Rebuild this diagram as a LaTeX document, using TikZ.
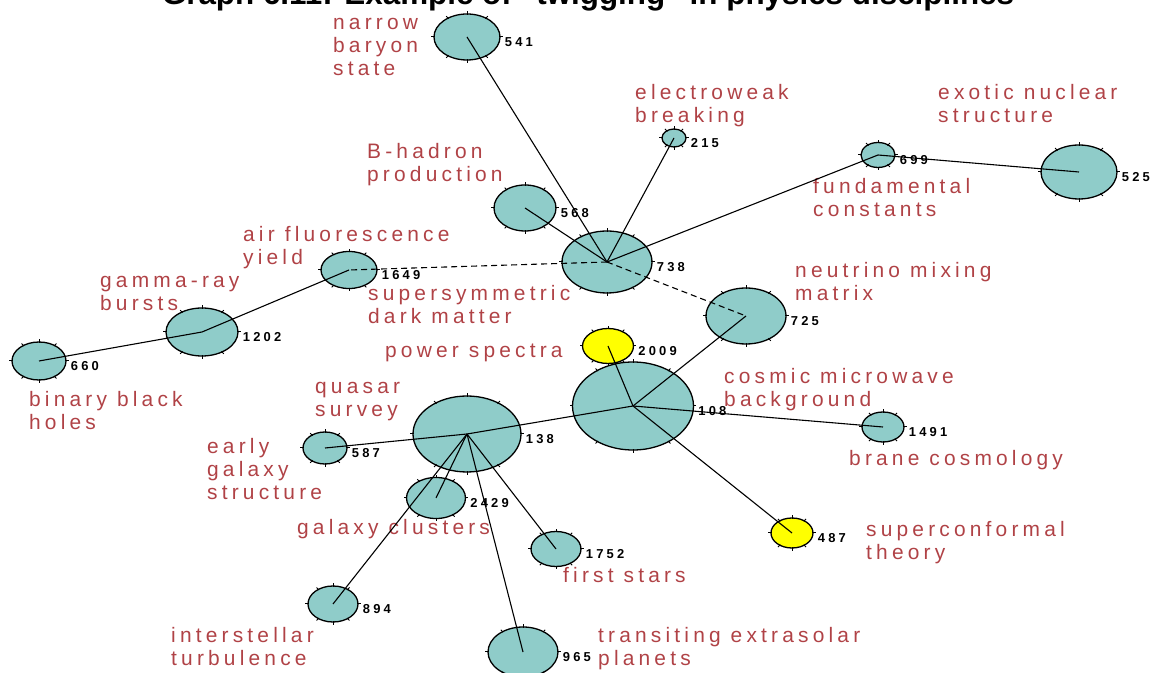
\documentclass[tikz,border=0pt]{standalone}
\usepackage{fontspec}
\setmainfont{Liberation Sans}
\newfontfamily\twiglabelfont[LetterSpace=20]{Liberation Sans}
\newfontfamily\twignumfont[LetterSpace=25]{Liberation Sans}
\usetikzlibrary{shapes,positioning}

\definecolor{twigfill}{RGB}{143,204,201}
\definecolor{twigyellow}{RGB}{255,255,0}
\definecolor{labelcol}{RGB}{176,66,70}

\tikzset{
  topic/.style={ellipse,draw=black,fill=twigfill,line width=1.3bp,inner sep=0pt},
  hot/.style={topic,fill=twigyellow},
  lbl/.style={anchor=base west,align=left,inner sep=0pt,text=labelcol,
    font=\twiglabelfont\fontsize{21}{23.5}\selectfont},
  num/.style={inner sep=0pt,font=\twignumfont\bfseries\fontsize{13}{13}\selectfont},
  link/.style={line width=1.1bp},
  weak/.style={link,dash pattern=on 6bp off 4bp},
}

% small marks round the rim of a topic
\newcommand\twigticks[1]{%
  \foreach \a in {0,45,...,315}{\draw[line width=1bp] ([shift={(\a:-1.5bp)}]#1.\a) -- ([shift={(\a:2bp)}]#1.\a);}}

\begin{document}
\begin{tikzpicture}[line join=bevel]
\useasboundingbox (0bp,0bp) rectangle (1157bp,673bp);

% Title
\node[anchor=base,inner sep=0pt,font=\bfseries\fontsize{31.5}{31.5}\selectfont] (title) at (588bp,668bp)
  {Graph 6.11: Example of "twigging" in physics disciplines};

% Node: n541
\node[topic,minimum width=66bp,minimum height=46bp] (n541) at (467bp,636bp) {};
% Node: n215
\node[topic,minimum width=24bp,minimum height=18bp] (n215) at (674bp,535bp) {};
% Node: n699
\node[topic,minimum width=34bp,minimum height=25bp] (n699) at (878bp,518bp) {};
% Node: n525
\node[topic,minimum width=76bp,minimum height=54bp] (n525) at (1079bp,501bp) {};
% Node: n568
\node[topic,minimum width=62bp,minimum height=46bp] (n568) at (525bp,465bp) {};
% Node: n738
\node[topic,minimum width=90bp,minimum height=62bp] (n738) at (607bp,411bp) {};
% Node: n1649
\node[topic,minimum width=56bp,minimum height=37bp] (n1649) at (349bp,403bp) {};
% Node: n1202
\node[topic,minimum width=72bp,minimum height=48bp] (n1202) at (202bp,341bp) {};
% Node: n660
\node[topic,minimum width=54bp,minimum height=38bp] (n660) at (39bp,312bp) {};
% Node: n725
\node[topic,minimum width=80bp,minimum height=56bp] (n725) at (746bp,357bp) {};
% Node: n2009
\node[hot,minimum width=51bp,minimum height=35bp] (n2009) at (608bp,327bp) {};
% Node: n108
\node[topic,minimum width=121bp,minimum height=88bp] (n108) at (633bp,267bp) {};
% Node: n1491
\node[topic,minimum width=42bp,minimum height=30bp] (n1491) at (883bp,246bp) {};
% Node: n138
\node[topic,minimum width=108bp,minimum height=76bp] (n138) at (467bp,239bp) {};
% Node: n587
\node[topic,minimum width=44bp,minimum height=32bp] (n587) at (325bp,225bp) {};
% Node: n2429
\node[topic,minimum width=59bp,minimum height=41bp] (n2429) at (436bp,175bp) {};
% Node: n1752
\node[topic,minimum width=50bp,minimum height=35bp] (n1752) at (556bp,124bp) {};
% Node: n487
\node[hot,minimum width=42bp,minimum height=30bp] (n487) at (792bp,140bp) {};
% Node: n894
\node[topic,minimum width=50bp,minimum height=36bp] (n894) at (333bp,69bp) {};
% Node: n965
\node[topic,minimum width=70bp,minimum height=50bp] (n965) at (523bp,21bp) {};

\foreach \n in {n541,n215,n699,n525,n568,n738,n1649,n1202,n660,n725,n2009,n108,n1491,n138,n587,n2429,n1752,n487,n894,n965}
  {\twigticks{\n}}

% Labels (placed at the baseline of their last line)
\node[lbl] (l541) at (333bp,597bp) {narrow\\baryon\\state};
\node[lbl] (l215) at (635bp,550.5bp) {electroweak\\breaking};
\node[lbl] (l525) at (938bp,550.5bp) {exotic nuclear\\structure};
\node[lbl] (l568) at (367bp,491.5bp) {B-hadron\\production};
\node[lbl] (l699) at (813bp,456.5bp) {fundamental\\constants};
\node[lbl] (l1649) at (243bp,408.5bp) {air fluorescence\\yield};
\node[lbl] (l1202) at (100bp,362.5bp) {gamma-ray\\bursts};
\node[lbl] (l725) at (795bp,372.5bp) {neutrino mixing\\matrix};
\node[lbl] (l738) at (368bp,349.5bp) {supersymmetric\\dark matter};
\node[lbl] (l2009) at (385bp,315bp) {power spectra};
\node[lbl] (l108) at (724bp,266.5bp) {cosmic microwave\\background};
\node[lbl] (l138) at (315bp,256.5bp) {quasar\\survey};
\node[lbl] (l660) at (29bp,243.5bp) {binary black\\holes};
\node[lbl] (l587) at (207bp,173bp) {early\\galaxy\\structure};
\node[lbl] (l1491) at (849bp,207bp) {brane cosmology};
\node[lbl] (l2429) at (297bp,138bp) {galaxy clusters};
\node[lbl] (l487) at (866bp,113.5bp) {superconformal\\theory};
\node[lbl] (l1752) at (563bp,90bp) {first stars};
\node[lbl] (l894) at (171bp,7.5bp) {interstellar\\turbulence};
\node[lbl] (l965) at (598bp,7.5bp) {transiting extrasolar\\planets};

% Numbers
\node[num,right=4bp of n541,yshift=-5bp] (t541) {541};
\node[num,right=4bp of n215,yshift=-5bp] (t215) {215};
\node[num,right=4bp of n699,yshift=-5bp] (t699) {699};
\node[num,right=4bp of n525,yshift=-5bp] (t525) {525};
\node[num,right=4bp of n568,yshift=-5bp] (t568) {568};
\node[num,right=4bp of n738,yshift=-5bp] (t738) {738};
\node[num,right=4bp of n1649,yshift=-5bp] (t1649) {1649};
\node[num,right=4bp of n1202,yshift=-5bp] (t1202) {1202};
\node[num,right=4bp of n660,yshift=-5bp] (t660) {660};
\node[num,right=4bp of n725,yshift=-5bp] (t725) {725};
\node[num,right=4bp of n2009,yshift=-5bp] (t2009) {2009};
\node[num,right=4bp of n108,yshift=-5bp] (t108) {108};
\node[num,right=4bp of n1491,yshift=-5bp] (t1491) {1491};
\node[num,right=4bp of n138,yshift=-5bp] (t138) {138};
\node[num,right=4bp of n587,yshift=-5bp] (t587) {587};
\node[num,right=4bp of n2429,yshift=-5bp] (t2429) {2429};
\node[num,right=4bp of n1752,yshift=-5bp] (t1752) {1752};
\node[num,right=4bp of n487,yshift=-5bp] (t487) {487};
\node[num,right=4bp of n894,yshift=-5bp] (t894) {894};
\node[num,right=4bp of n965,yshift=-5bp] (t965) {965};

% Edge: n738 -- its twigs
\draw[link] (n541.center) -- (n738.center);
\draw[link] (n568.center) -- (n738.center);
\draw[link] (n215.center) -- (n738.center);
\draw[link] (n699.center) -- (n738.center);
\draw[link] (n699.center) -- (n525.center);
\draw[weak] (n738.center) -- (n1649.center);
\draw[weak] (n738.center) -- (n725.center);

% Edge: n1649 -- n1202 -- n660
\draw[link] (n1649.center) -- (n1202.center) -- (n660.center);

% Edge: n108 -- its twigs
\draw[link] (n725.center) -- (n108.center);
\draw[link] (n2009.center) -- (n108.center);
\draw[link] (n108.center) -- (n1491.center);
\draw[link] (n108.center) -- (n487.center);
\draw[link] (n108.center) -- (n138.center);

% Edge: n138 -- its twigs
\draw[link] (n138.center) -- (n587.center);
\draw[link] (n138.center) -- (n2429.center);
\draw[link] (n138.center) -- (n894.center);
\draw[link] (n138.center) -- (n965.center);
\draw[link] (n138.center) -- (n1752.center);
\end{tikzpicture}
\end{document}
